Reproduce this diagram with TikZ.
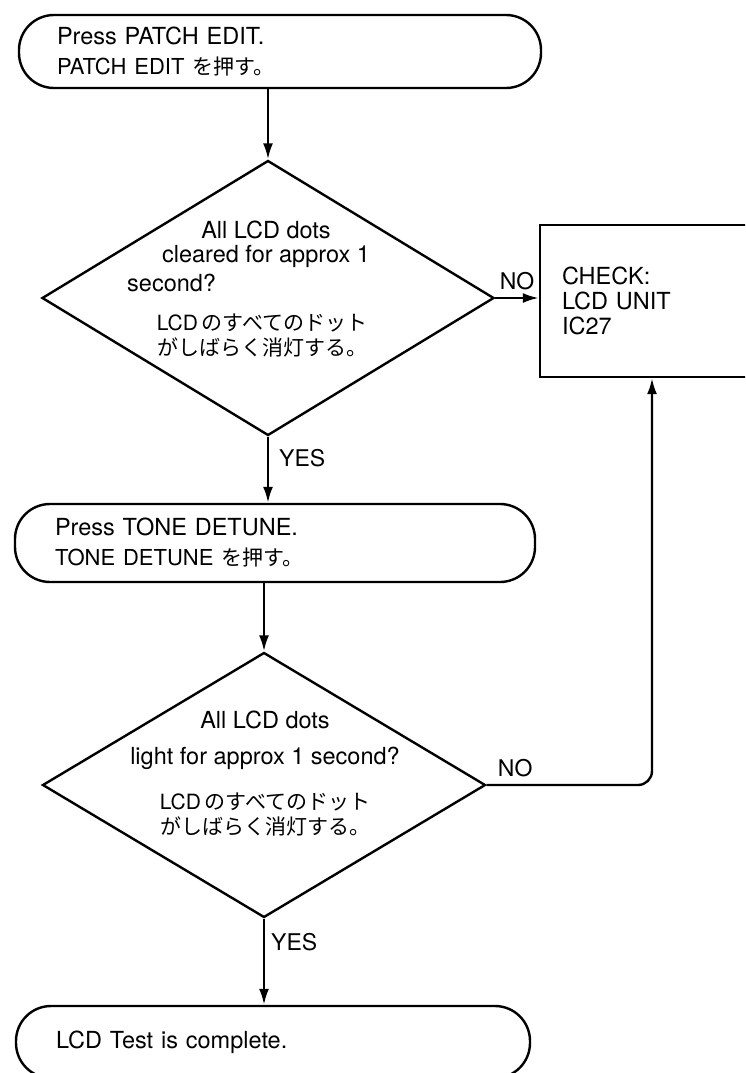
\documentclass[tikz,border=0pt]{standalone}
\usepackage{fontspec}
\setmainfont{TeX Gyre Heros}
\newfontfamily\jpfont{Noto Sans CJK JP}
\newcommand{\jp}[1]{{\jpfont\fontsize{21}{25}\selectfont #1}}
\newcommand{\subline}{\fontsize{22}{30}\selectfont}
\usetikzlibrary{arrows.meta,shapes.geometric}

\begin{document}
\begin{tikzpicture}[x=1pt,y=-1pt,
  termnode/.style={draw,line width=2.4pt,rounded corners=35pt,minimum height=73pt,
    align=left,font=\fontsize{23.5}{30}\selectfont},
  decnode/.style={draw,diamond,line width=2.4pt,inner sep=0pt},
  decnote/.style={align=center,inner sep=0pt,font=\fontsize{23.5}{24}\selectfont},
  chkbox/.style={draw,line width=2.4pt,minimum height=152pt,text width=180pt,inner xsep=22pt,
    align=left,font=\fontsize{23.5}{25}\selectfont},
  flowarrow/.style={-{Latex[length=16pt,width=10pt]},line width=2.4pt},
  lbl/.style={inner sep=0pt,font=\fontsize{23}{25}\selectfont}
]
  \useasboundingbox (0,0) rectangle (745,1073);
  \clip (0,0) rectangle (745,1073);
  % Start
  \node[termnode,text width=446pt,inner xsep=38pt] (patch) at (280,51.5)
    {Press PATCH EDIT.\\{\subline PATCH EDIT \jp{を押す。}}};
  % First check
  \node[decnode,minimum width=452pt,minimum height=275pt] (clear) at (268,298) {};
  \node[decnote] (cleartxt) at (266,244) {All LCD dots\\cleared for approx 1};
  \node[decnote,anchor=west] (clearsec) at (127,283) {second?};
  \node[decnote,font=\fontsize{21}{25}\selectfont] (clearjp) at (262,335.5)
    {LCD\,\jp{のすべてのドット}\\\jp{がしばらく消灯する。}};
  % Fault box
  \node[chkbox] (check) at (652,301) {CHECK:\\LCD UNIT\\IC27};
  % Second step
  \node[termnode,text width=440pt,inner xsep=40pt,minimum height=78pt] (detune) at (275,543)
    {Press TONE DETUNE.\\{\subline TONE DETUNE \jp{を押す。}}};
  % Second check
  \node[decnode,minimum width=443pt,minimum height=265pt] (light) at (264,785) {};
  \node[decnote,font=\fontsize{23.5}{36}\selectfont] (lighttxt) at (265,740)
    {All LCD dots\\light for approx 1 second?};
  \node[decnote,font=\fontsize{21}{25}\selectfont] (lightjp) at (265,815)
    {LCD\,\jp{のすべてのドット}\\\jp{がしばらく消灯する。}};
  % End
  \node[termnode,text width=434pt,inner xsep=40pt,minimum height=72pt] (done) at (273,1042)
    {LCD Test is complete.};
  % Arrows
  \draw[flowarrow] (clear.north |- patch.south) -- (clear.north);
  \draw[flowarrow] (clear.east) -- node[lbl,above=7pt] {NO} (clear.east -| check.west);
  \draw[flowarrow] (clear.south) node[lbl,anchor=north west,xshift=10pt,yshift=-11.5pt] {YES}
    -- (clear.south |- detune.north);
  \draw[flowarrow] (light.north |- detune.south) -- (light.north);
  \draw[flowarrow,rounded corners=14pt] (light.east)
    node[lbl,anchor=south west,xshift=10pt,yshift=7pt] {NO} -| (check.south);
  \draw[flowarrow] (light.south) node[lbl,anchor=north west,xshift=6pt,yshift=-13.5pt] {YES}
    -- (light.south |- done.north);
\end{tikzpicture}
\end{document}
